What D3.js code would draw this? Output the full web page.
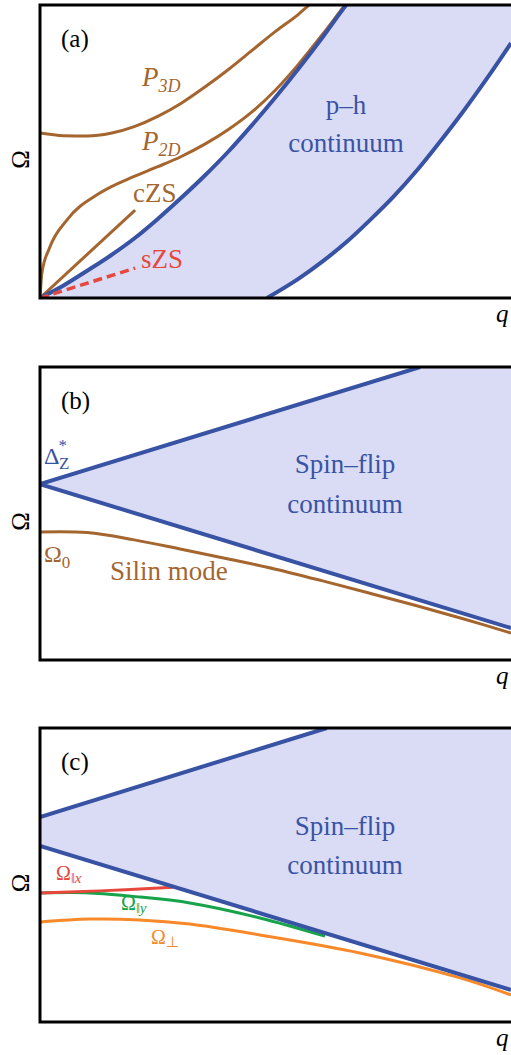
<!DOCTYPE html>
<html>
<head>
<meta charset="utf-8">
<script src="https://cdn.jsdelivr.net/npm/d3@7"></script>
<style>
  body { margin: 0; background: #fff; }
  svg { display: block; }
  text { font-family: "Liberation Serif", "Times New Roman", serif; }
</style>
</head>
<body>
<div class="chart"></div>
<script>
// ---- data, q and Omega in arbitrary units (0..1) ----

// (a) particle-hole continuum boundaries and collective modes
var phInner = [[0, 0], [0.05, 0.043], [0.1, 0.093], [0.15, 0.145], [0.2, 0.203], [0.25, 0.27],
  [0.3, 0.342], [0.35, 0.418], [0.4, 0.5], [0.45, 0.59], [0.5, 0.685], [0.55, 0.785],
  [0.6, 0.89], [0.65, 1.0], [0.67, 1.04]];
var phOuter = [[0.482, 0], [0.55, 0.067], [0.6, 0.125], [0.65, 0.19], [0.7, 0.265], [0.75, 0.345],
  [0.8, 0.435], [0.85, 0.535], [0.9, 0.64], [0.95, 0.752], [1.0, 0.87]];
var p3d = [[0, 0.563], [0.05, 0.554], [0.1, 0.553], [0.15, 0.562], [0.2, 0.585], [0.25, 0.62],
  [0.3, 0.665], [0.35, 0.72], [0.4, 0.78], [0.45, 0.845], [0.5, 0.91], [0.55, 0.97], [0.575, 1.005], [0.6, 1.04]];
var p2d = [[0, 0], [0.004, 0.085], [0.021, 0.174], [0.057, 0.266], [0.127, 0.358], [0.2, 0.415],
  [0.25, 0.448], [0.3, 0.483], [0.35, 0.525], [0.4, 0.575], [0.45, 0.635], [0.5, 0.71],
  [0.55, 0.8], [0.6, 0.9], [0.65, 1.005], [0.67, 1.045]];
var cZS = [[0, 0], [0.202, 0.30]];
var sZS = [[0, 0], [0.202, 0.102]];

// (b) spin-flip continuum and Silin mode
var sfUpperB = [[0, 0.60], [0.807, 1.0]];
var sfLowerB = [[0, 0.60], [1.0, 0.109]];
var silin = [[0, 0.437], [0.1, 0.435], [0.2, 0.41], [0.3, 0.378], [0.4, 0.345], [0.5, 0.31],
  [0.6, 0.27], [0.7, 0.228], [0.8, 0.185], [0.9, 0.14], [1.0, 0.092]];

// (c) spin-flip continuum with spin-orbit splitting, three modes
var sfUpperC = [[0, 0.697], [0.609, 1.0]];
var sfLowerC = [[0, 0.599], [1.0, 0.109]];
var omParX = [[0, 0.439], [0.127, 0.446], [0.282, 0.458]];
var omParY = [[0, 0.439], [0.106, 0.439], [0.212, 0.425], [0.318, 0.405], [0.467, 0.354], [0.605, 0.292]];
var omPerp = [[0, 0.34], [0.106, 0.350], [0.212, 0.347], [0.318, 0.333], [0.467, 0.296], [0.679, 0.235],
  [0.892, 0.150], [1.0, 0.092]];

var width = 511;
var height = 1055;

var blue = "#3953a4", fill = "#dadbf4", brown = "#a5652f", red = "#e6483d",
  green = "#16a349", orange = "#f7892b";

var svg = d3.select(".chart")
  .append("svg")
  .attr("width", width)
  .attr("height", height);

var x = d3.scaleLinear().domain([0, 1]).range([40, 511]);

var panels = [
  { name: "a", top: 5, bottom: 298 },
  { name: "b", top: 367, bottom: 660 },
  { name: "c", top: 728, bottom: 1022 }
];

panels.forEach(function (p) {
  p.y = d3.scaleLinear().domain([0, 1]).range([p.bottom, p.top]);
  p.line = d3.line()
    .x(function (d) { return x(d[0]); })
    .y(function (d) { return p.y(d[1]); })
    .curve(d3.curveMonotoneX);
  p.smooth = d3.line()
    .x(function (d) { return x(d[0]); })
    .y(function (d) { return p.y(d[1]); })
    .curve(d3.curveCatmullRom.alpha(0.5));
  p.poly = d3.line()
    .x(function (d) { return x(d[0]); })
    .y(function (d) { return p.y(d[1]); })
    .curve(d3.curveLinearClosed);

  svg.append("clipPath").attr("id", "clip" + p.name)
    .append("rect")
    .attr("x", x(0)).attr("y", p.top)
    .attr("width", x(1) - x(0)).attr("height", p.bottom - p.top);

  p.g = svg.append("g").attr("clip-path", "url(#clip" + p.name + ")");
});

function curve(p, data, color, w, dash, gen) {
  var path = p.g.append("path")
    .datum(data)
    .attr("d", gen || p.line)
    .attr("fill", "none")
    .attr("stroke", color)
    .attr("stroke-width", w);
  if (dash) path.attr("stroke-dasharray", dash);
  return path;
}

// ---- panel (a) ----
var pa = panels[0];
// shaded band: inner boundary up, across the top, outer boundary back down
var innerD = pa.line(phInner);
var outerD = pa.line(phOuter.slice().reverse());
pa.g.append("path")
  .attr("d", innerD + "L" + x(1) + "," + pa.y(1.05) + "L" + x(1) + "," + pa.y(phOuter[phOuter.length - 1][1]) +
    outerD.replace(/^M/, "L") + "Z")
  .attr("fill", fill);

curve(pa, p3d, brown, 3);
curve(pa, p2d, brown, 3);
curve(pa, cZS, brown, 3);
curve(pa, phOuter, blue, 4);
curve(pa, phInner, blue, 4);
curve(pa, sZS, red, 3.5, "9,5");

// ---- panel (b) ----
var pb = panels[1];
pb.g.append("path")
  .datum([sfUpperB[0], sfUpperB[1], [1, 1], sfLowerB[1]])
  .attr("d", pb.poly)
  .attr("fill", fill);
curve(pb, silin, brown, 3, null, pb.smooth);
curve(pb, sfUpperB, blue, 4);
curve(pb, sfLowerB, blue, 4);

// ---- panel (c) ----
var pc = panels[2];
pc.g.append("path")
  .datum([sfUpperC[0], sfUpperC[1], [1, 1], sfLowerC[1], sfLowerC[0]])
  .attr("d", pc.poly)
  .attr("fill", fill);
curve(pc, omPerp, orange, 3, null, pc.smooth);
curve(pc, omParY, green, 3, null, pc.smooth);
curve(pc, omParX, red, 3, null, pc.smooth);
curve(pc, sfUpperC, blue, 4);
curve(pc, sfLowerC, blue, 4);

// ---- frames and axis labels ----
panels.forEach(function (p) {
  svg.append("path")
    .attr("d", "M" + x(1) + "," + p.top + "H" + x(0) + "V" + p.bottom + "H" + x(1))
    .attr("fill", "none")
    .attr("stroke", "#000")
    .attr("stroke-width", 3);

  svg.append("text")
    .attr("transform", "translate(29," + ((p.top + p.bottom) / 2 + 8) + ") rotate(-90)")
    .attr("text-anchor", "middle")
    .attr("font-size", 25)
    .text("Ω");

  svg.append("text")
    .attr("x", 496).attr("y", p.bottom + 24)
    .attr("font-size", 25)
    .attr("font-style", "italic")
    .text("q");

  svg.append("text")
    .attr("x", 61).attr("y", p.top + 42)
    .attr("font-size", 25)
    .text("(" + p.name + ")");
});

function label(xp, yp, parts, color, size, anchor) {
  var t = svg.append("text")
    .attr("x", xp).attr("y", yp)
    .attr("fill", color)
    .attr("font-size", size)
    .attr("text-anchor", anchor || "start");
  parts.forEach(function (s) {
    var ts = t.append("tspan").text(s.t);
    if (s.italic) ts.attr("font-style", "italic");
    if (s.size) ts.attr("font-size", s.size);
    if (s.dy) ts.attr("dy", s.dy);
    if (s.dx) ts.attr("dx", s.dx);
  });
  return t;
}

// (a) labels
label(142, 86, [{ t: "P", italic: true }, { t: "3D", italic: true, size: 18, dy: 6 }], brown, 27);
label(142, 150, [{ t: "P", italic: true }, { t: "2D", italic: true, size: 18, dy: 6 }], brown, 27);
label(133, 202, [{ t: "cZS" }], brown, 27);
label(141, 268, [{ t: "sZS" }], red, 27);
label(346, 114, [{ t: "p–h" }], blue, 27, "middle");
label(346, 152, [{ t: "continuum" }], blue, 27, "middle");

// (b) labels
label(44, 464, [{ t: "Δ" }, { t: "*", size: 17, dy: -13, dx: -1 }, { t: "Z", size: 17, dy: 18, dx: -8 }], blue, 24);
label(44, 562, [{ t: "Ω" }, { t: "0", size: 17, dy: 6 }], brown, 24);
label(110, 580, [{ t: "Silin mode" }], brown, 27);
label(345, 473, [{ t: "Spin–flip" }], blue, 27, "middle");
label(345, 513, [{ t: "continuum" }], blue, 27, "middle");

// (c) labels
label(56, 880, [{ t: "Ω" }, { t: "‖", size: 14, dy: 3 }, { t: "x", italic: true, size: 15 }], red, 20);
label(121, 910, [{ t: "Ω" }, { t: "‖", size: 14, dy: 3 }, { t: "y", italic: true, size: 15 }], green, 20);
label(151, 944, [{ t: "Ω" }, { t: "⊥", size: 15, dy: 3 }], orange, 20);
label(345, 835, [{ t: "Spin–flip" }], blue, 27, "middle");
label(345, 874, [{ t: "continuum" }], blue, 27, "middle");
</script>
</body>
</html>
